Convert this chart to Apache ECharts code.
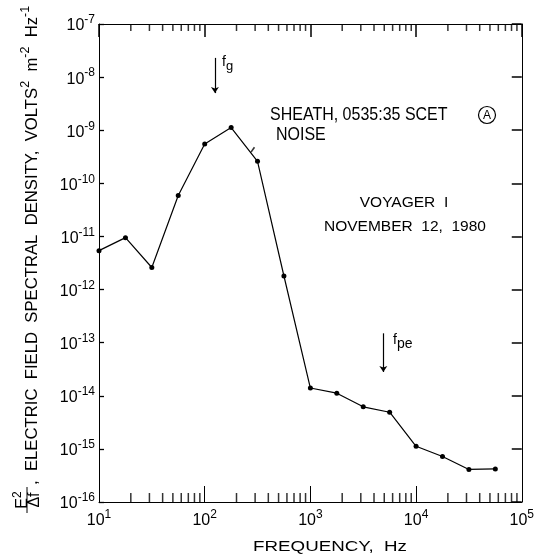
<!DOCTYPE html>
<html><head><meta charset="utf-8">
<script src="https://cdn.jsdelivr.net/npm/echarts@6/dist/echarts.min.js"></script>
<style>html,body{margin:0;padding:0;background:#fff}#c{width:537px;height:559px}</style>
</head><body><div id="c"></div>
<script>
// Frequency (Hz) of each measured channel
const frequencies = [10, 17.8, 31.6, 56.2, 100, 178, 316, 562, 1000, 1778, 3162, 5623, 10000, 17783, 31623, 56234];
// Electric field spectral density (V^2 m^-2 Hz^-1)
const spectralDensity = [5.4e-12, 9.5e-12, 2.6e-12, 5.9e-11, 5.5e-10, 1.12e-9, 2.6e-10, 1.8e-12, 1.4e-14, 1.12e-14, 6.2e-15, 4.9e-15, 1.12e-15, 7.2e-16, 4.1e-16, 4.2e-16];
// axis ranges / decade ticks
const xRange = [10, 1e5];
const yRange = [1e-16, 1e-7];
const minorMultipliers = [2, 3, 4, 5, 6, 7, 8, 9];
const minorDecades = [10, 100, 1000, 10000];
// annotation arrows: [frequency, yStart, yEnd]
const fgArrow = [125, 2.3e-8, 5.0e-9];
const fpeArrow = [4900, 1.5e-13, 2.8e-14];
// small stroke drawn on the curve near 300 Hz
const curveNick = [[285, 4.3e-10]];

const FONT = 'Liberation Sans';
const minorBottom = [], minorTop = [];
minorDecades.forEach(d => minorMultipliers.forEach(m => {
  minorBottom.push([d * m, yRange[0]]);
  minorTop.push([d * m, yRange[1]]);
}));

const expLabel = v => '{b|10}{s|' + Math.round(Math.log10(v)) + '}';
const labelRich = {
  b: {fontSize: 16, fontFamily: FONT, color: '#000', verticalAlign: 'bottom'},
  s: {fontSize: 12, fontFamily: FONT, color: '#000', verticalAlign: 'bottom', padding: [0, 0, 8, 0]}
};

const chart = echarts.init(document.getElementById('c'), null, {renderer: 'canvas'});
const axisLine = {show: true, lineStyle: {color: '#000', width: 1}};
const tickScatter = (data, size, offset) => ({
  type: 'scatter', data, silent: true, z: 4, clip: false,
  symbol: 'rect', symbolSize: size, symbolOffset: offset,
  itemStyle: {color: '#000'}
});
const txt = (extra, style) => Object.assign({type: 'text'}, extra, {style: Object.assign({fontFamily: FONT, fontSize: 15, fill: '#000'}, style)});

const option = {
  backgroundColor: '#fff',
  animation: false,
  grid: {left: 99, right: 12, top: 24, bottom: 57},
  xAxis: [
    {type: 'log', logBase: 10, min: xRange[0], max: xRange[1], interval: 1, position: 'bottom',
     axisLine, axisTick: {show: true, inside: true, length: 16, lineStyle: {color: '#000'}},
     axisLabel: {formatter: expLabel, rich: labelRich, margin: 7}, splitLine: {show: false}},
    {type: 'log', logBase: 10, min: xRange[0], max: xRange[1], interval: 1, position: 'top',
     axisLine, axisTick: {show: true, inside: true, length: 13, lineStyle: {color: '#000', width: 1.5}},
     axisLabel: {show: false}, splitLine: {show: false}}
  ],
  yAxis: [
    {type: 'log', logBase: 10, min: yRange[0], max: yRange[1], interval: 1, position: 'left',
     axisLine, axisTick: {show: true, inside: true, length: 5, lineStyle: {color: '#000', width: 1.3}},
     axisLabel: {formatter: expLabel, rich: labelRich, margin: 4}, splitLine: {show: false}},
    {type: 'log', logBase: 10, min: yRange[0], max: yRange[1], interval: 1, position: 'right',
     axisLine, axisTick: {show: true, inside: true, length: 10, lineStyle: {color: '#000', width: 1.5}},
     axisLabel: {show: false}, splitLine: {show: false}}
  ],
  series: [
    {type: 'line', data: frequencies.map((f, i) => [f, spectralDensity[i]]),
     symbol: 'circle', symbolSize: 5, itemStyle: {color: '#000'},
     lineStyle: {color: '#000', width: 1.2}, z: 5,
     markLine: {silent: true, symbol: ['none', 'arrow'], symbolSize: 6, animation: false,
       lineStyle: {color: '#000', type: 'solid', width: 1.2}, label: {show: false},
       data: [
         [{coord: [fgArrow[0], fgArrow[1]]}, {coord: [fgArrow[0], fgArrow[2]]}],
         [{coord: [fpeArrow[0], fpeArrow[1]]}, {coord: [fpeArrow[0], fpeArrow[2]]}]
       ]}},
    tickScatter(minorBottom, [1.5, 9], [0, -4.5]),
    tickScatter(minorTop, [1.5, 7], [0, 3.5]),
    {type: 'scatter', data: curveNick, silent: true, z: 6, symbol: 'rect', symbolSize: [1.6, 6],
     symbolRotate: -35, itemStyle: {color: '#000'}}
  ],
  graphic: [
    txt({left: 270, top: 106, scaleY: 1.1}, {text: 'SHEATH, 0535:35 SCET', fontSize: 16}),
    {type: 'circle', shape: {cx: 487, cy: 115, r: 8.5}, style: {fill: 'none', stroke: '#000', lineWidth: 1.2}},
    txt({x: 487, y: 115.5}, {text: 'A', fontSize: 12, align: 'center', verticalAlign: 'middle'}),
    txt({left: 276, top: 126, scaleY: 1.1}, {text: 'NOISE', fontSize: 16}),
    txt({x: 404, y: 203}, {text: 'VOYAGER  I', fontSize: 15.5, align: 'center', verticalAlign: 'middle'}),
    txt({x: 405, y: 227}, {text: 'NOVEMBER  12,  1980', fontSize: 15.5, align: 'center', verticalAlign: 'middle'}),
    txt({x: 330, y: 547, scaleX: 1.25}, {text: 'FREQUENCY,  Hz', fontSize: 15, align: 'center', verticalAlign: 'middle'}),
    txt({x: 222, y: 62}, {text: '{f|f}{g|g}', verticalAlign: 'middle',
      rich: {f: {fontFamily: FONT, fontSize: 14}, g: {fontFamily: FONT, fontSize: 13, padding: [8, 0, 0, 0]}}}),
    txt({x: 393, y: 340}, {text: '{f|f}{g|pe}', verticalAlign: 'middle',
      rich: {f: {fontFamily: FONT, fontSize: 14}, g: {fontFamily: FONT, fontSize: 14, padding: [8, 0, 0, 0]}}}),
    {type: 'group', x: 27, y: 500, rotation: Math.PI / 2, children: [
      txt({x: 0, y: -6}, {text: '{b|E}{s|2}', align: 'center', verticalAlign: 'middle',
        rich: {b: {fontFamily: FONT, fontSize: 16, verticalAlign: 'bottom'}, s: {fontFamily: FONT, fontSize: 12, verticalAlign: 'bottom', padding: [0, 0, 7, 0]}}}),
      {type: 'line', shape: {x1: -13, y1: 0, x2: 13, y2: 0}, style: {stroke: '#000', lineWidth: 1}},
      txt({x: 0, y: 8}, {text: 'Δf', fontSize: 16, align: 'center', verticalAlign: 'middle'}),
      txt({x: 15, y: 3}, {text: '{b|,  ELECTRIC  FIELD  SPECTRAL  DENSITY,  VOLTS}{s|2}{b|  m}{s|-2}{b|  Hz}{s|-1}',
        align: 'left', verticalAlign: 'middle',
        rich: {b: {fontFamily: FONT, fontSize: 16.7, verticalAlign: 'bottom'}, s: {fontFamily: FONT, fontSize: 12.5, verticalAlign: 'bottom', padding: [0, 0, 8, 0]}}})
    ]}
  ]
};
chart.setOption(option);
</script></body></html>
